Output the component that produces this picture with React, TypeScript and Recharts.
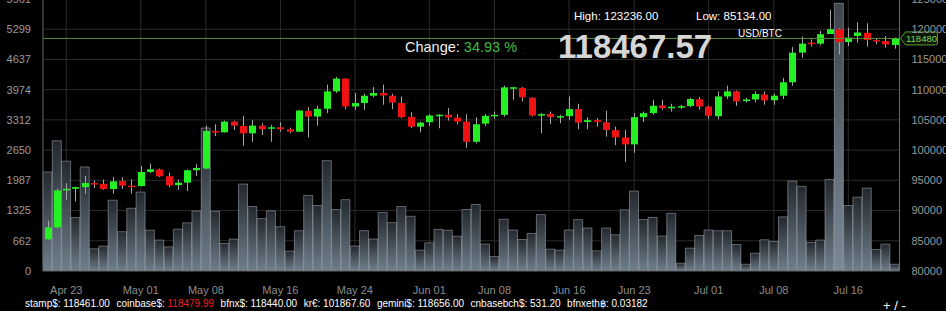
import React from 'react';
import { ComposedChart, Bar, XAxis, YAxis, CartesianGrid, ReferenceLine, Cell } from 'recharts';

const dates = [
  'Apr 21', 'Apr 22', 'Apr 23', 'Apr 24', 'Apr 25', 'Apr 26', 'Apr 27', 'Apr 28', 'Apr 29', 'Apr 30',
  'May 01', 'May 02', 'May 03', 'May 04', 'May 05', 'May 06', 'May 07', 'May 08', 'May 09', 'May 10',
  'May 11', 'May 12', 'May 13', 'May 14', 'May 15', 'May 16', 'May 17', 'May 18', 'May 19', 'May 20',
  'May 21', 'May 22', 'May 23', 'May 24', 'May 25', 'May 26', 'May 27', 'May 28', 'May 29', 'May 30',
  'May 31', 'Jun 01', 'Jun 02', 'Jun 03', 'Jun 04', 'Jun 05', 'Jun 06', 'Jun 07', 'Jun 08', 'Jun 09',
  'Jun 10', 'Jun 11', 'Jun 12', 'Jun 13', 'Jun 14', 'Jun 15', 'Jun 16', 'Jun 17', 'Jun 18', 'Jun 19',
  'Jun 20', 'Jun 21', 'Jun 22', 'Jun 23', 'Jun 24', 'Jun 25', 'Jun 26', 'Jun 27', 'Jun 28', 'Jun 29',
  'Jun 30', 'Jul 01', 'Jul 02', 'Jul 03', 'Jul 04', 'Jul 05', 'Jul 06', 'Jul 07', 'Jul 08', 'Jul 09',
  'Jul 10', 'Jul 11', 'Jul 12', 'Jul 13', 'Jul 14', 'Jul 15', 'Jul 16', 'Jul 17', 'Jul 18', 'Jul 19',
  'Jul 20', 'Jul 21',
];

const openPrices = [
  85250, 87220, 93330, 93600, 93880, 94550, 94420, 93550, 94880, 94120,
  94050, 96380, 96800, 95670, 94200, 94620, 96670, 96950, 103170, 102950,
  104720, 104000, 102780, 104050, 103600, 103780, 103450, 103050, 106500, 105550,
  106830, 109720, 111830, 107220, 107780, 109000, 109450, 109000, 107800, 105500,
  103880, 104620, 105720, 105850, 105380, 104720, 101380, 104380, 105670, 105830,
  110380, 110300, 108650, 105780, 106000, 105450, 105620, 106780, 104650, 104950,
  104600, 103300, 102100, 100950, 105450, 106120, 107380, 106950, 107170, 107300,
  108400, 107200, 105600, 108880, 109720, 108100, 108380, 109200, 108250, 109000,
  111220, 116120, 117780, 117620, 119200, 120000, 117880, 118880, 119400, 118200,
  118050, 117400,
];

const highPrices = [
  88330, 93620, 94550, 93950, 95720, 95000, 95120, 95550, 95550, 95170,
  97380, 97780, 96950, 96280, 95120, 96780, 97670, 104050, 104280, 104880,
  104880, 105670, 105000, 104450, 104170, 104620, 103720, 106600, 107120, 107330,
  110830, 112120, 111900, 109450, 109330, 110450, 110830, 109330, 108880, 106280,
  104720, 105950, 105950, 106950, 105950, 105950, 105450, 105950, 106380, 110670,
  110450, 110450, 108750, 106120, 106380, 105830, 108880, 107670, 105450, 105280,
  106500, 103880, 103330, 106120, 106380, 108330, 108330, 107670, 107500, 108620,
  108780, 107380, 109720, 110670, 109880, 108620, 109720, 109720, 109330, 111950,
  117050, 118780, 118330, 119720, 123236, 120120, 120280, 121120, 121000, 118450,
  118880, 118620,
];

const lowPrices = [
  85134, 87110, 91780, 91500, 92780, 93720, 93450, 92780, 93550, 92780,
  94000, 96220, 95550, 93880, 93450, 93220, 95720, 96830, 102330, 102900,
  103330, 100720, 101380, 102500, 101380, 103050, 102780, 102980, 102120, 104050,
  106120, 109450, 106780, 106670, 106670, 108720, 107500, 106780, 105280, 103620,
  102950, 104000, 103620, 104880, 104280, 100380, 101120, 104000, 105120, 105550,
  108330, 108050, 105550, 102780, 104330, 104450, 105000, 103450, 103450, 103880,
  102220, 100830, 98050, 99550, 104620, 105830, 106670, 106380, 106830, 107120,
  106670, 105120, 105120, 108450, 107330, 107880, 107880, 107500, 107500, 108450,
  110670, 115280, 117120, 117330, 119170, 115830, 117220, 117780, 117120, 117500,
  116950, 116780,
];

const closePrices = [
  87220, 93330, 93600, 93880, 94550, 94420, 93550, 94830, 94120, 93980,
  96380, 96830, 95670, 94170, 94620, 96670, 97050, 103170, 103000, 104720,
  104050, 102780, 104050, 103450, 103780, 103450, 103050, 106550, 105550, 106830,
  109720, 111830, 107220, 107780, 109000, 109450, 109050, 107880, 105450, 103880,
  104550, 105720, 105850, 105380, 104720, 101380, 104280, 105670, 105830, 110380,
  110400, 108720, 105720, 105950, 105450, 105620, 106780, 104550, 104950, 104670,
  103330, 102120, 100950, 105450, 106120, 107330, 106950, 107170, 107270, 108450,
  107220, 105670, 108880, 109720, 108050, 108380, 109280, 108220, 109000, 111220,
  116120, 117620, 117620, 119170, 120000, 117880, 118620, 119450, 118220, 118000,
  117500, 118480,
];

const volumes = [
  2170, 2855, 2407, 1170, 2281, 486, 545, 1552, 861, 1375,
  1729, 894, 678, 530, 916, 1055, 1314, 3135, 1309, 603,
  700, 1905, 1413, 1148, 1318, 971, 435, 883, 1656, 1435,
  2418, 1347, 1563, 548, 883, 702, 1281, 1060, 1413, 1199,
  457, 618, 912, 894, 762, 1347, 1457, 589, 316, 1133,
  899, 691, 824, 1236, 479, 457, 899, 1126, 943, 442,
  943, 795, 1340, 1751, 1126, 1175, 766, 1265, 170, 501,
  779, 899, 883, 883, 581, 148, 391, 684, 647, 1186,
  1972, 1855, 625, 678, 2003, 5866, 1435, 1618, 1817, 470,
  589, 148,
];

const xTicks = ['Apr 23', 'May 01', 'May 08', 'May 16', 'May 24', 'Jun 01', 'Jun 08', 'Jun 16', 'Jun 23', 'Jul 01', 'Jul 08', 'Jul 16'];
const volumeTicks = [0, 662, 1325, 1987, 2650, 3312, 3974, 4637, 5299, 5961];
const priceTicks = [80000, 85000, 90000, 95000, 100000, 105000, 110000, 115000, 120000, 125000];
const highlightedDate = 'Jul 15';

const lastPrice = 118480;
const headerHigh = '123236.00';
const headerLow = '85134.00';
const headerPair = 'USD/BTC';
const headerChange = '34.93 %';
const headerPrice = '118467.57';

const exchangeLabels = ['stamp$', 'coinbase$', 'bfnx$', 'kr€', 'gemini$', 'cnbasebch$', 'bfnxeth฿'];
const exchangeValues = ['118461.00', '118479.99', '118440.00', '101867.60', '118656.00', '531.20', '0.03182'];
const exchangeDown = [false, true, false, false, false, false, false];

const data = dates.map((d, i) => ({
  date: d,
  open: openPrices[i],
  high: highPrices[i],
  low: lowPrices[i],
  close: closePrices[i],
  volume: volumes[i],
  range: [lowPrices[i], highPrices[i]],
}));

const FONT = '"Liberation Sans", Arial, Helvetica, sans-serif';

const Candle = (props: any) => {
  const { x, y, width, height, payload } = props;
  if (!payload || x == null || y == null) return null;
  const { open, close, high, low } = payload;
  const span = high - low;
  const py = (v: number) => (span === 0 ? y : y + ((high - v) / span) * height);
  const cx = Math.round(x + width / 2) + 0.5;
  const up = close >= open;
  const top = py(Math.max(open, close));
  const bot = py(Math.min(open, close));
  const bw = 7;
  return (
    <g>
      <line x1={cx} x2={cx} y1={y} y2={y + height} stroke="#a6a6a6" strokeWidth={1} />
      <rect x={cx - bw / 2} y={top} width={bw} height={Math.max(bot - top, 1.5)} fill={up ? '#24f024' : '#f01212'} />
    </g>
  );
};

const PriceTag = (props: any) => {
  const vb = props.viewBox || {};
  const tip = vb.x + vb.width + 1;
  const yc = vb.y;
  const h = 6.5;
  const left = tip + 5;
  const right = tip + 37;
  const d = `M${tip},${yc} L${left},${yc - h} L${right - 2},${yc - h} Q${right},${yc - h} ${right},${yc - h + 2} L${right},${yc + h - 2} Q${right},${yc + h} ${right - 2},${yc + h} L${left},${yc + h} Z`;
  return (
    <g>
      <path d={d} fill="#0b1606" stroke="#5d9a36" strokeWidth={1} />
      <text x={(left + right) / 2} y={yc + 3.4} textAnchor="middle" fontSize={9.5} fill="#86d05a" fontFamily={FONT}>
        {String(lastPrice)}
      </text>
    </g>
  );
};

export default function App() {
  return (
    <div style={{ position: 'fixed', left: 0, top: 0, width: 946, height: 311, background: '#000', overflow: 'hidden', fontFamily: FONT }}>
      <svg width={0} height={0} style={{ position: 'absolute' }}>
        <defs>
          <linearGradient id="volGrad" x1="0" y1="0" x2="0" y2="1">
            <stop offset="0%" stopColor="#23282d" />
            <stop offset="100%" stopColor="#6f7f8c" />
          </linearGradient>
          <linearGradient id="volGradHi" x1="0" y1="0" x2="0" y2="1">
            <stop offset="0%" stopColor="#3e454c" />
            <stop offset="100%" stopColor="#7c8a96" />
          </linearGradient>
        </defs>
      </svg>
      <div style={{ position: 'absolute', left: 0, top: -1 }}>
        <ComposedChart width={946} height={312} data={data} margin={{ top: 0, right: 0, bottom: 0, left: 0 }} barCategoryGap={0} barGap={-9}>
          <CartesianGrid yAxisId="price" stroke="#2b2b2b" strokeWidth={1} />
          <XAxis
            dataKey="date"
            ticks={xTicks}
            interval={0}
            tickLine={false}
            tickSize={0}
            tickMargin={15}
            height={40}
            axisLine={{ stroke: '#555' }}
            tick={{ fill: '#8c8c8c', fontSize: 11, fontFamily: FONT }}
          />
          <YAxis
            yAxisId="vol"
            orientation="left"
            width={43}
            domain={[0, 5961]}
            ticks={volumeTicks}
            interval={0}
            allowDataOverflow
            tickLine={false}
            tickSize={0}
            tickMargin={12}
            axisLine={{ stroke: '#555' }}
            tick={{ fill: '#9a9a9a', fontSize: 11, fontFamily: FONT }}
          />
          <YAxis
            yAxisId="price"
            orientation="right"
            width={46.5}
            domain={[80000, 125000]}
            ticks={priceTicks}
            interval={0}
            allowDataOverflow
            tickLine={false}
            tickSize={0}
            tickMargin={12}
            axisLine={{ stroke: '#6a6a6a' }}
            tick={{ fill: '#9a9a9a', fontSize: 11, fontFamily: FONT, textAnchor: 'start' }}
          />
          <Bar yAxisId="vol" dataKey="volume" isAnimationActive={false} stroke="rgba(190,200,210,0.45)" strokeWidth={1}>
            {data.map((d) => (
              <Cell key={d.date} fill={d.date === highlightedDate ? 'url(#volGradHi)' : 'url(#volGrad)'} />
            ))}
          </Bar>
          <ReferenceLine yAxisId="price" y={lastPrice} stroke="#5d9234" strokeWidth={1} label={<PriceTag />} ifOverflow="visible" />
          <Bar yAxisId="price" dataKey="range" isAnimationActive={false} shape={(p: any) => <Candle {...p} />} />
        </ComposedChart>
      </div>
      <svg width={946} height={311} style={{ position: 'absolute', left: 0, top: 0, pointerEvents: 'none' }} fontFamily={FONT}>
        <text x={574} y={20} fontSize={11.5} fill="#ffffff">High: {headerHigh}</text>
        <text x={696} y={20} fontSize={11.5} fill="#ffffff">Low: {headerLow}</text>
        <text x={738} y={37} fontSize={10} fill="#ffffff">{headerPair}</text>
        <text x={405} y={51.5} fontSize={14.5} fill="#eeeeee">
          Change: <tspan fill="#3fbd3f">{headerChange}</tspan>
        </text>
        <text x={558} y={58} fontSize={33} fontWeight="bold" fill="#d6d6d6">{headerPrice}</text>
        <text x={883} y={310} fontSize={13} fill="#ffffff">+ / -</text>
      </svg>
      <div style={{ position: 'absolute', left: 25, top: 298, display: 'flex', gap: 6.5, fontSize: 10, color: '#fff', whiteSpace: 'pre', lineHeight: '12px' }}>
        {exchangeLabels.map((l, i) => (
          <span key={l}>
            {l}: <span style={{ color: exchangeDown[i] ? '#f02020' : '#fff' }}>{exchangeValues[i]}</span>
          </span>
        ))}
      </div>
    </div>
  );
}
